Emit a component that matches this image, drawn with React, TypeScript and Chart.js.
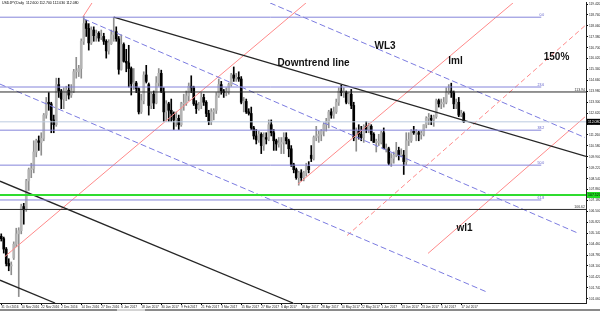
import { useEffect, useRef } from 'react';
import { Chart, registerables } from 'chart.js';

Chart.register(...registerables);

// ---------- data ----------
const headerText = 'USDJPY,Daily  112.600 112.700 112.030 112.080';

const dateTicks = [
  '31 Oct 2016', '10 Nov 2016', '22 Nov 2016', '2 Dec 2016', '14 Dec 2016', '27 Dec 2016',
  '6 Jan 2017', '18 Jan 2017', '30 Jan 2017', '9 Feb 2017', '21 Feb 2017', '3 Mar 2017',
  '15 Mar 2017', '27 Mar 2017', '6 Apr 2017', '18 Apr 2017', '28 Apr 2017', '10 May 2017',
  '22 May 2017', '1 Jun 2017', '13 Jun 2017', '23 Jun 2017', '5 Jul 2017', '17 Jul 2017',
];
const barsPerDateTick = 8;

const priceTicks = [
  119.42, 118.74, 118.06, 117.38, 116.7, 116.02, 115.34, 114.66, 113.98, 113.3, 112.62,
  111.94, 111.26, 110.58, 109.9, 109.22, 108.54, 107.86, 107.18, 106.5, 105.82, 105.14,
  104.46, 103.78, 103.1, 102.42, 101.74, 101.06,
];

// daily candles [open, high, low, close], one per trading day from 31 Oct 2016
const candles: number[][] = [
  [104.95, 105.1, 104.65, 104.8], [104.8, 104.9, 103.9, 104.15], [104.15, 104.25, 103.1, 103.25],
  [103.25, 103.55, 102.8, 103.1], [103.1, 103.35, 102.55, 103.15], [103.6, 104.6, 103.5, 104.45],
  [104.45, 105.45, 104.3, 105.1], [105.1, 105.48, 101.19, 105.3], [105.3, 106.95, 105.1, 106.8],
  [106.8, 107.0, 105.7, 106.6], [106.65, 108.5, 106.5, 108.4], [108.4, 109.2, 107.8, 109.1],
  [109.1, 109.5, 108.6, 109.15], [109.15, 110.9, 108.9, 110.2], [110.2, 111.0, 109.9, 110.9],
  [110.9, 111.2, 110.3, 110.8], [110.8, 111.4, 110.0, 111.05], [111.05, 112.6, 110.9, 112.5],
  [112.5, 113.6, 112.3, 113.3], [113.3, 113.9, 112.8, 113.2], [113.2, 113.3, 111.4, 112.2],
  [112.2, 112.5, 111.4, 111.9], [111.9, 114.8, 111.8, 114.4], [114.4, 114.8, 113.6, 114.0],
  [114.0, 114.1, 112.9, 113.5], [113.5, 114.2, 112.9, 114.0], [114.0, 114.3, 113.4, 114.05],
  [114.05, 114.4, 113.5, 113.75], [113.75, 114.4, 113.6, 114.0], [114.0, 115.35, 113.9, 115.2],
  [115.2, 116.1, 114.8, 115.2], [115.2, 115.6, 114.9, 115.4], [115.4, 117.25, 114.8, 117.1],
  [117.1, 118.66, 116.9, 118.2], [118.2, 118.4, 117.4, 117.9], [117.9, 118.2, 116.55, 117.0],
  [117.0, 118.0, 116.9, 117.8], [117.8, 118.0, 117.1, 117.45], [117.45, 117.8, 117.1, 117.6],
  [117.6, 117.7, 117.1, 117.3], [117.35, 117.8, 117.2, 117.4], [117.4, 117.6, 116.9, 117.1],
  [117.1, 117.2, 116.05, 116.5], [116.5, 117.2, 116.3, 117.0], [116.95, 117.8, 116.9, 117.5],
  [117.5, 118.6, 117.1, 117.7], [117.7, 118.0, 117.1, 117.25], [117.25, 117.4, 115.05, 115.35],
  [115.35, 117.5, 115.3, 116.9], [116.9, 117.0, 115.8, 115.85], [115.85, 116.6, 115.2, 115.75],
  [115.75, 116.85, 114.25, 115.4], [115.4, 115.5, 113.75, 114.45], [114.45, 115.4, 114.1, 114.5],
  [114.5, 114.6, 113.9, 114.15], [114.15, 114.2, 112.57, 112.7], [112.7, 113.8, 112.6, 113.4],
  [113.4, 115.2, 113.2, 115.0], [115.0, 115.6, 114.5, 114.6], [114.4, 114.5, 112.5, 113.1],
  [113.1, 113.9, 112.9, 113.8], [113.8, 114.0, 112.9, 113.25], [113.25, 114.9, 113.2, 114.5],
  [114.5, 115.4, 114.3, 115.1], [115.1, 115.3, 113.9, 113.95], [113.95, 114.2, 112.1, 112.7],
  [112.7, 113.4, 112.1, 113.2], [113.2, 113.3, 112.1, 112.8], [112.8, 113.5, 112.1, 112.6],
  [112.6, 112.7, 111.6, 112.2], [112.2, 112.7, 111.8, 112.3], [112.3, 112.5, 111.6, 111.9],
  [111.9, 113.3, 111.8, 113.2], [113.2, 113.8, 112.8, 113.25], [113.25, 114.0, 113.1, 113.7],
  [113.7, 114.5, 113.4, 114.3], [114.3, 114.95, 113.9, 114.2], [114.2, 114.3, 113.1, 113.2],
  [113.2, 113.4, 112.6, 112.9], [112.9, 113.3, 112.8, 113.1], [113.1, 113.9, 112.9, 113.6],
  [113.6, 113.8, 113.1, 113.3], [113.3, 113.4, 112.4, 112.6], [112.6, 112.8, 111.9, 112.1],
  [112.1, 112.9, 111.9, 112.7], [112.7, 112.9, 112.2, 112.8], [112.8, 113.9, 112.6, 113.7],
  [113.7, 114.75, 113.6, 114.4], [114.4, 114.6, 113.8, 114.0], [114.0, 114.1, 113.6, 113.9],
  [113.9, 114.2, 113.7, 113.95], [113.95, 114.5, 113.8, 114.4], [114.4, 115.1, 114.3, 115.0],
  [115.0, 115.5, 114.6, 114.8], [114.8, 115.1, 114.6, 114.85], [114.85, 115.2, 114.6, 114.75],
  [114.75, 114.9, 113.2, 113.3], [113.3, 113.6, 112.7, 113.35], [113.35, 113.5, 112.6, 112.7],
  [112.7, 112.9, 112.5, 112.6], [112.6, 113.0, 111.6, 111.7], [111.7, 111.8, 111.0, 111.2],
  [111.2, 111.6, 110.7, 110.95], [110.95, 111.5, 110.8, 111.3], [111.3, 111.4, 110.1, 110.6],
  [110.6, 111.4, 110.3, 111.1], [111.1, 111.4, 110.7, 111.0], [111.0, 112.2, 110.9, 111.9],
  [111.9, 112.2, 111.2, 111.4], [111.4, 111.6, 110.3, 110.9], [110.9, 111.0, 110.3, 110.7],
  [110.7, 111.1, 110.5, 110.7], [110.7, 111.1, 110.1, 110.8], [110.8, 111.4, 110.1, 111.1],
  [111.1, 111.4, 110.7, 110.9], [110.9, 111.0, 109.9, 110.4], [110.4, 110.6, 109.3, 109.4],
  [109.4, 109.5, 108.9, 109.1], [109.1, 109.2, 108.5, 108.6], [108.6, 109.0, 108.13, 108.9],
  [108.9, 109.1, 108.4, 108.6], [108.6, 109.0, 108.4, 108.9], [108.9, 109.5, 108.7, 109.3],
  [109.3, 109.6, 108.9, 109.1], [110.0, 110.6, 109.6, 109.8], [109.8, 111.2, 109.7, 111.1],
  [111.1, 111.8, 110.9, 111.2], [111.2, 111.5, 110.8, 111.3], [111.3, 111.6, 110.9, 111.5],
  [111.5, 112.0, 111.2, 111.9], [111.9, 112.3, 111.5, 112.1], [112.1, 112.8, 111.7, 112.7],
  [112.7, 112.9, 112.3, 112.5], [112.5, 113.0, 112.3, 112.7], [112.7, 113.5, 112.6, 113.3],
  [113.3, 114.2, 113.1, 114.0], [114.0, 114.37, 113.7, 113.9], [113.9, 114.2, 113.6, 113.9],
  [113.9, 114.0, 113.2, 113.3], [113.3, 113.9, 113.2, 113.8], [113.8, 114.1, 112.9, 113.1],
  [113.1, 113.3, 110.9, 111.1], [111.1, 111.7, 110.25, 111.5], [111.5, 111.9, 111.0, 111.3],
  [111.3, 111.8, 110.9, 111.1], [111.1, 111.9, 110.8, 111.8], [111.8, 112.1, 111.4, 111.6],
  [111.6, 112.0, 111.4, 111.8], [111.8, 111.9, 110.9, 111.3], [111.3, 111.4, 110.8, 110.8],
  [110.8, 111.0, 110.2, 110.8], [110.8, 111.3, 110.6, 110.8], [110.8, 111.5, 110.7, 111.4],
  [111.4, 111.7, 110.4, 110.4], [110.4, 110.7, 110.2, 110.4], [110.4, 110.5, 109.4, 109.5],
  [109.5, 110.1, 109.3, 109.8], [109.8, 110.2, 109.5, 110.0], [110.0, 110.8, 109.9, 110.3],
  [110.3, 110.5, 109.7, 110.0], [110.0, 110.4, 109.9, 110.0], [110.0, 110.3, 108.8, 109.6],
  [109.6, 111.4, 109.4, 110.9], [110.9, 111.4, 110.6, 110.9], [110.9, 111.6, 110.8, 111.5],
  [111.5, 111.8, 111.3, 111.4], [111.4, 111.6, 110.9, 111.4], [111.4, 111.5, 110.9, 111.3],
  [111.3, 111.5, 111.0, 111.3], [111.3, 111.9, 111.2, 111.9], [111.9, 112.4, 111.7, 112.3],
  [112.3, 112.6, 111.9, 112.3], [112.3, 112.5, 111.9, 112.2], [112.2, 112.5, 111.8, 112.4],
  [112.4, 113.5, 112.3, 113.4], [113.4, 113.5, 113.0, 113.2], [113.2, 113.5, 112.9, 113.2],
  [113.2, 113.6, 113.0, 113.3], [113.3, 114.2, 113.2, 113.9], [113.9, 114.4, 113.8, 114.0],
  [114.0, 114.49, 113.6, 113.9], [113.9, 114.0, 112.9, 113.2], [113.2, 113.5, 112.9, 113.3],
  [113.3, 113.6, 112.4, 112.5], [112.5, 112.8, 112.4, 112.6], [112.6, 112.7, 112.03, 112.08],
];

// drawn objects: anchors are [bar index, price]
const downtrendLine = [[45, 118.6], [233.9, 109.93]];
const blackChannelUpper = [[-0.5, 108.38], [116.7, 100.79]];
const blackChannelLower = [[-0.5, 102.21], [21.5, 100.79]];
const wl3Line = [[107.5, 119.49], [233.5, 111.1]];
const blueMedian = [[33, 118.5], [230.3, 105.17]];
const blueLower = [[-0.5, 114.43], [194.3, 101.47]];
const redShort = [[32.7, 118.63], [36.3, 119.49]];
const redUpper = [[1.5, 103.69], [121.9, 119.49]];
const lmlLine = [[118.7, 108.2], [204.7, 119.49]];
const wl1Line = [[170.7, 103.88], [233.5, 112.39]];
const line150 = [[138.3, 104.99], [233.5, 118.07]];

const fibPrices = [118.6, 114.25, 111.56, 109.38, 107.21];
const fibLabels = ['0.0', '23.6', '38.2', '50.0', '61.8'];
const fibSpan = [-0.5, 216];
const blackLevels = [113.94, 106.62];
const blackLevelLabels = ['113.94', '106.62'];
const greenLevel = 107.52;

const notes = [
  { text: 'Downtrend line', x: 124.9, y: 115.73 },
  { text: 'WL3', x: 153.5, y: 116.78 },
  { text: 'lml', x: 181.7, y: 115.85 },
  { text: '150%', x: 222.1, y: 116.1 },
  { text: 'wl1', x: 185.3, y: 105.42 },
];

const X_MIN = -0.5;
const X_MAX = 233.9;
const Y_MIN = 100.79;
const Y_MAX = 119.49;

// ---------- helpers ----------
const toPts = (arr: number[][]) => arr.map(([x, y]) => ({ x, y }));

function lineDs(arr: number[][], color: string, width = 1, dash: number[] = []) {
  return {
    type: 'line' as const,
    data: toPts(arr),
    borderColor: color,
    borderWidth: width,
    borderDash: dash,
    pointRadius: 0,
    fill: false,
    tension: 0,
    order: 1,
  };
}

const lastClose = candles[candles.length - 1][3];

const overlayPlugin = {
  id: 'overlay',
  afterDatasetsDraw(chart: any) {
    const { ctx, scales } = chart;
    const xs = scales.x;
    const ys = scales.y;
    ctx.save();
    // fib labels
    ctx.font = '3.5px "Liberation Sans", Arial, sans-serif';
    ctx.fillStyle = '#5a5ac8';
    ctx.textAlign = 'right';
    ctx.textBaseline = 'bottom';
    fibPrices.forEach((p, k) => {
      ctx.fillText(fibLabels[k], xs.getPixelForValue(fibSpan[1]) + 3, ys.getPixelForValue(p) - 0.5);
    });
    ctx.fillStyle = '#333';
    blackLevels.forEach((p, k) => {
      ctx.fillText(blackLevelLabels[k], chart.chartArea.right - 1, ys.getPixelForValue(p) - 0.5);
    });
    // annotations
    ctx.font = 'bold 10px "Liberation Sans", Arial, sans-serif';
    ctx.fillStyle = '#111';
    ctx.textAlign = 'center';
    ctx.textBaseline = 'middle';
    notes.forEach((n) => {
      ctx.fillText(n.text, xs.getPixelForValue(n.x), ys.getPixelForValue(n.y));
    });
    ctx.restore();
  },
  afterDraw(chart: any) {
    const { ctx, scales, chartArea } = chart;
    const ys = scales.y;
    ctx.save();
    // header
    ctx.font = '3.5px "Liberation Sans", Arial, sans-serif';
    ctx.fillStyle = '#000';
    ctx.textAlign = 'left';
    ctx.textBaseline = 'top';
    ctx.fillText(headerText, 2, 1);
    // price boxes on the axis
    const box = (price: number, bg: string, fg: string) => {
      const py = ys.getPixelForValue(price);
      ctx.fillStyle = bg;
      ctx.fillRect(chartArea.right + 1, py - 3, 14, 6);
      ctx.fillStyle = fg;
      ctx.textBaseline = 'middle';
      ctx.fillText(price.toFixed(3), chartArea.right + 2, py);
    };
    box(lastClose, '#000', '#fff');
    box(greenLevel, '#22dd22', '#000');
    // window bottom bar
    ctx.fillStyle = '#8a8a8a';
    ctx.fillRect(0, 309, 600, 2);
    ctx.fillStyle = '#d4d4d4';
    ctx.fillRect(117, 309, 28, 2);
    ctx.restore();
  },
};

export default function App() {
  const canvasRef = useRef<HTMLCanvasElement | null>(null);

  useEffect(() => {
    const canvas = canvasRef.current;
    if (!canvas) return;

    const bull = candles.map((c) => c[3] >= c[0]);

    const datasets: any[] = [
      // horizontal levels
      ...fibPrices.map((p) => lineDs([[fibSpan[0], p], [fibSpan[1], p]], '#8484da', 1)),
      ...blackLevels.map((p) => lineDs([[X_MIN, p], [X_MAX, p]], '#2a2a2a', 1)),
      lineDs([[X_MIN, lastClose], [X_MAX, lastClose]], '#bccbe0', 1),
      lineDs([[X_MIN, greenLevel], [X_MAX, greenLevel]], '#2fdc2f', 2.2),
      // trend / channel lines
      lineDs(downtrendLine, '#262626', 1.3),
      lineDs(blackChannelUpper, '#262626', 1.3),
      lineDs(blackChannelLower, '#262626', 1.3),
      lineDs(wl3Line, '#7b7be0', 1, [6, 3]),
      lineDs(blueMedian, '#7b7be0', 1, [6, 3]),
      lineDs(blueLower, '#7b7be0', 1, [6, 3]),
      lineDs(redShort, '#ff8a8a', 1),
      lineDs(redUpper, '#ff8a8a', 1),
      lineDs(lmlLine, '#ff8a8a', 1),
      lineDs(wl1Line, '#ff8a8a', 1),
      lineDs(line150, '#ff8a8a', 1, [5, 3]),
      // candles
      {
        type: 'bar',
        data: candles.map((c, i) => ({ x: i, y: [c[2], c[1]] })),
        backgroundColor: bull.map((b) => (b ? '#8e8e8e' : '#000')),
        barThickness: 1,
        grouped: false,
        borderWidth: 0,
        order: 5,
      },
      {
        type: 'bar',
        data: candles.map((c, i) => ({ x: i, y: [c[0], c[3]] })),
        backgroundColor: bull.map((b) => (b ? '#b4b4b4' : '#000')),
        borderColor: bull.map((b) => (b ? '#8a8a8a' : '#000')),
        borderWidth: 0,
        barThickness: 2,
        minBarLength: 1,
        grouped: false,
        order: 4,
      },
    ];

    const tickFont = { family: '"Liberation Sans", Arial, sans-serif', size: 3.2 };

    const chart = new Chart(canvas, {
      type: 'bar',
      data: { datasets },
      plugins: [overlayPlugin],
      options: {
        animation: false,
        responsive: false,
        maintainAspectRatio: false,
        layout: { padding: 0 },
        plugins: { legend: { display: false }, tooltip: { enabled: false } },
        scales: {
          x: {
            type: 'linear',
            position: 'bottom',
            min: X_MIN,
            max: X_MAX,
            offset: false,
            grid: { display: true, drawOnChartArea: false, drawTicks: true, tickLength: 2, color: '#000', offset: false },
            border: { display: true, color: '#222' },
            ticks: {
              autoSkip: false,
              maxRotation: 0,
              minRotation: 0,
              align: 'start',
              padding: 0,
              color: '#222',
              font: tickFont,
              callback: (v: any) => dateTicks[Math.round(Number(v) / barsPerDateTick)] ?? '',
            },
            afterBuildTicks: (s: any) => {
              s.ticks = dateTicks.map((_, k) => ({ value: k * barsPerDateTick }));
            },
            afterFit: (s: any) => {
              s.height = 10;
            },
          },
          y: {
            type: 'linear',
            position: 'right',
            min: Y_MIN,
            max: Y_MAX,
            grid: { display: true, drawOnChartArea: false, drawTicks: true, tickLength: 2, color: '#000' },
            border: { display: true, color: '#222' },
            ticks: {
              padding: 1,
              color: '#222',
              font: tickFont,
              callback: (v: any) => Number(v).toFixed(3),
            },
            afterBuildTicks: (s: any) => {
              s.ticks = priceTicks.map((v) => ({ value: v }));
            },
            afterFit: (s: any) => {
              s.width = 14;
            },
          },
        },
      } as any,
    });

    return () => chart.destroy();
  }, []);

  return (
    <div style={{ position: 'fixed', left: 0, top: 0, width: 600, height: 313, background: '#fff' }}>
      <canvas ref={canvasRef} width={600} height={313} style={{ display: 'block' }} />
    </div>
  );
}
